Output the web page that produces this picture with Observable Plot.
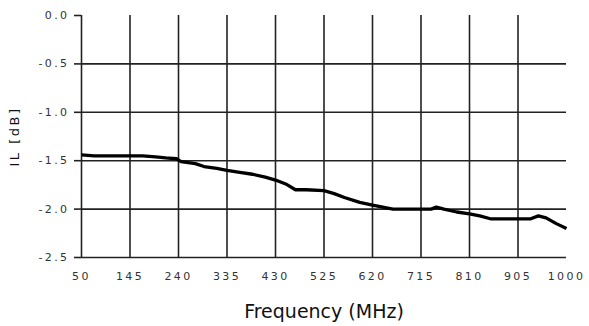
<!DOCTYPE html>
<html>
<head>
<meta charset="utf-8">
<script src="https://cdn.jsdelivr.net/npm/d3@7"></script>
<script src="https://cdn.jsdelivr.net/npm/@observablehq/plot@0.6"></script>
<style>
  html, body { margin: 0; padding: 0; background: #fff; }
  #chart svg { display: block; }
  #chart g[aria-label="y-axis tick label"] text,
  #chart g[aria-label="x-axis tick label"] text { letter-spacing: 2.4px; }
  #chart .ylab text { letter-spacing: 2.5px; }
</style>
</head>
<body>
<div id="chart"></div>
<script>
// Data
const freqMHz = [50, 75, 100, 125, 145, 170, 195, 215, 236, 245, 273, 290, 315, 335, 360, 385, 410, 430, 450, 469, 490, 525, 545, 565, 595, 620, 640, 660, 690, 715, 735, 745, 760, 785, 810, 830, 851, 880, 905, 930, 945, 960, 980, 1000];
const ilDb = [-1.44, -1.45, -1.45, -1.45, -1.45, -1.45, -1.46, -1.47, -1.48, -1.51, -1.53, -1.56, -1.58, -1.60, -1.62, -1.64, -1.67, -1.70, -1.74, -1.80, -1.80, -1.81, -1.84, -1.88, -1.93, -1.96, -1.98, -2.00, -2.00, -2.00, -2.00, -1.98, -2.00, -2.03, -2.05, -2.07, -2.10, -2.10, -2.10, -2.10, -2.07, -2.09, -2.15, -2.20];
const xTicks = [50, 145, 240, 335, 430, 525, 620, 715, 810, 905, 1000];
const yTicks = [0, -0.5, -1.0, -1.5, -2.0, -2.5];
const xLabel = "Frequency (MHz)";
const yLabel = "IL [dB]";

const data = freqMHz.map((f, i) => ({f, v: ilDb[i]}));
const gridColor = "#222";

const chart = Plot.plot({
  width: 589,
  height: 326,
  marginLeft: 81,
  marginRight: 23,
  marginTop: 15,
  marginBottom: 69,
  style: {fontFamily: "DejaVu Sans", background: "#fff", overflow: "visible"},
  x: {domain: [50, 1000]},
  y: {domain: [-2.5, 0]},
  marks: [
    // horizontal grid (no line at 0.0)
    Plot.ruleY(yTicks.filter(d => d !== 0), {stroke: gridColor, strokeWidth: 1.6}),
    // vertical grid (none at 1000)
    Plot.ruleX(xTicks.filter(d => d !== 1000), {stroke: gridColor, strokeWidth: 1.6}),
    Plot.axisY({
      ticks: yTicks,
      tickSize: 7,
      tickPadding: 5,
      tickFormat: d => d.toFixed(1),
      label: null,
      fontSize: 11,
      stroke: gridColor,
      strokeWidth: 1.6,
      fill: "#333"
    }),
    Plot.axisX({
      ticks: xTicks,
      tickSize: 0,
      tickPadding: 15,
      tickFormat: d => String(d),
      label: null,
      fontSize: 11,
      fill: "#333"
    }),
    Plot.line(data, {x: "f", y: "v", stroke: "#000", strokeWidth: 3.3, strokeLinejoin: "miter", strokeLinecap: "butt"}),
    Plot.text([xLabel], {frameAnchor: "bottom", dy: 54.5, fontSize: 19, fill: "#111", lineAnchor: "middle"}),
    Plot.text([yLabel], {frameAnchor: "left", dx: -67, dy: 0, rotate: -90, fontSize: 13, fill: "#111", textAnchor: "middle", lineAnchor: "middle", className: "ylab"})
  ]
});
document.getElementById("chart").appendChild(chart);
</script>
</body>
</html>
